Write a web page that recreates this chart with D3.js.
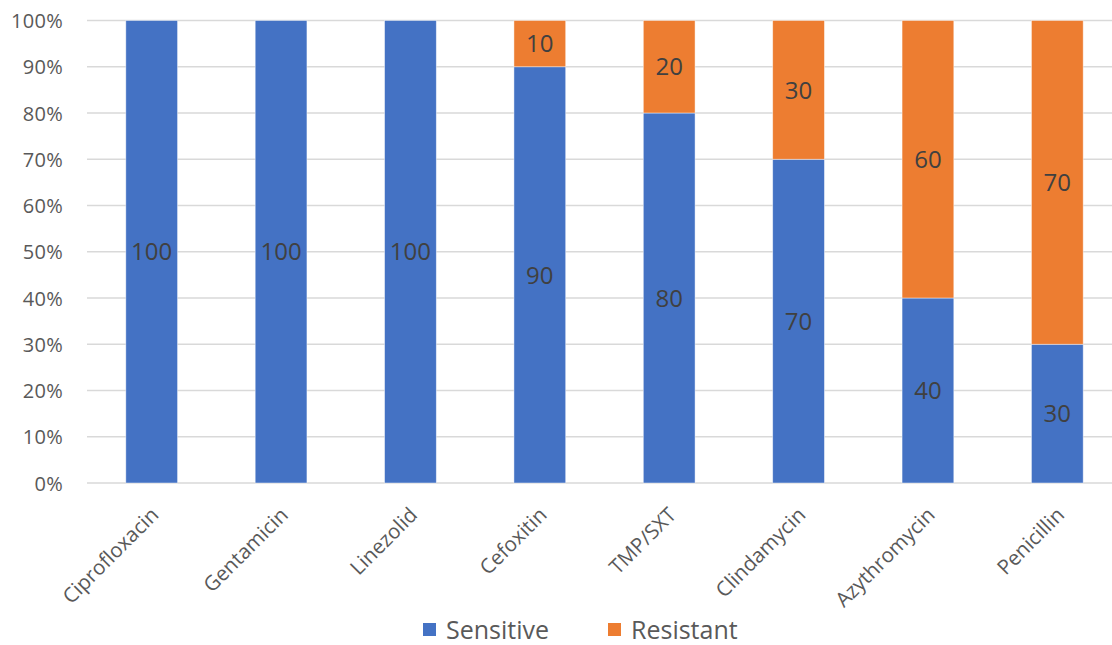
<!DOCTYPE html>
<html>
<head>
<meta charset="utf-8">
<script src="https://cdn.jsdelivr.net/npm/d3@7"></script>
<style>
  html, body { margin: 0; padding: 0; background: #fff; }
  svg { display: block; font-family: "Open Sans", "Liberation Sans", sans-serif; }
</style>
</head>
<body>
<svg id="chart" width="1112" height="645"></svg>
<script>
// Antibiotic susceptibility (% of isolates)
const antibiotics = ["Ciprofloxacin", "Gentamicin", "Linezolid", "Cefoxitin", "TMP/SXT", "Clindamycin", "Azythromycin", "Penicillin"];
const sensitive = [100, 100, 100, 90, 80, 70, 40, 30];
const resistant = [0, 0, 0, 10, 20, 30, 60, 70];
const seriesNames = ["Sensitive", "Resistant"];
const seriesColors = ["#4472C4", "#ED7D31"];
const tickValues = [0, 0.1, 0.2, 0.3, 0.4, 0.5, 0.6, 0.7, 0.8, 0.9, 1.0];

const svg = d3.select("#chart");

const x = d3.scaleBand().domain(antibiotics).range([87, 1122]).paddingInner(0.6).paddingOuter(0.3);
const y = d3.scaleLinear().domain([0, 1]).range([483, 20.5]);

// Gridlines
svg.append("g")
  .selectAll("line")
  .data(tickValues)
  .join("line")
  .attr("x1", 87).attr("x2", 1122)
  .attr("y1", d => y(d)).attr("y2", d => y(d))
  .attr("stroke", "#d9d9d9").attr("stroke-width", 1.3);

// Y axis labels
const yAxis = d3.axisLeft(y).tickValues(tickValues).tickFormat(d3.format(".0%")).tickSize(0).tickPadding(0);
const yg = svg.append("g").attr("transform", "translate(63,0)").call(yAxis);
yg.select(".domain").remove();
yg.selectAll("text")
  .attr("fill", "#595959")
  .attr("font-size", 20)
  .attr("letter-spacing", "0.3px")
  .attr("font-family", "Open Sans, sans-serif")
  .attr("dy", "0.36em");

// Stacked data
const rows = antibiotics.map((a, i) => ({ name: a, Sensitive: sensitive[i] / 100, Resistant: resistant[i] / 100 }));
const values = [sensitive, resistant];
const stack = d3.stack().keys(seriesNames)(rows);

const layers = svg.append("g")
  .selectAll("g")
  .data(stack)
  .join("g")
  .attr("fill", (d, i) => seriesColors[i]);

layers.selectAll("rect")
  .data(d => d.filter(s => s[1] - s[0] > 0))
  .join("rect")
  .attr("x", d => x(d.data.name))
  .attr("width", x.bandwidth())
  .attr("y", d => y(d[1]))
  .attr("height", d => y(d[0]) - y(d[1]))
  .attr("stroke", "rgba(255,255,255,0.55)")
  .attr("stroke-width", 0.8);

// Data labels
stack.forEach((layer, li) => {
  svg.append("g")
    .selectAll("text")
    .data(layer.map((s, i) => ({ s, v: values[li][i] })).filter(o => o.v > 0))
    .join("text")
    .attr("x", o => x(o.s.data.name) + x.bandwidth() / 2)
    .attr("y", o => (y(o.s[0]) + y(o.s[1])) / 2)
    .attr("dy", "0.36em")
    .attr("text-anchor", "middle")
    .attr("fill", "#404040")
    .attr("font-size", 24)
    .text(o => o.v);
});

// Category labels, rotated
svg.append("g")
  .selectAll("text")
  .data(antibiotics)
  .join("text")
  .attr("transform", d => `translate(${x(d) + x.bandwidth() / 2 + 3},${511}) rotate(-45)`)
  .attr("text-anchor", "end")
  .attr("dy", "0.36em")
  .attr("fill", "#595959")
  .attr("font-size", 20.5)
  .text(d => d);

// Legend
const legend = svg.append("g");
const legendX = [423, 608];
seriesNames.forEach((n, i) => {
  legend.append("rect")
    .attr("x", legendX[i]).attr("y", 623)
    .attr("width", 13).attr("height", 13)
    .attr("fill", seriesColors[i]);
  legend.append("text")
    .attr("x", legendX[i] + 23).attr("y", 629.5)
    .attr("dy", "0.36em")
    .attr("fill", "#595959")
    .attr("font-size", 25)
    .text(n);
});
</script>
</body>
</html>
